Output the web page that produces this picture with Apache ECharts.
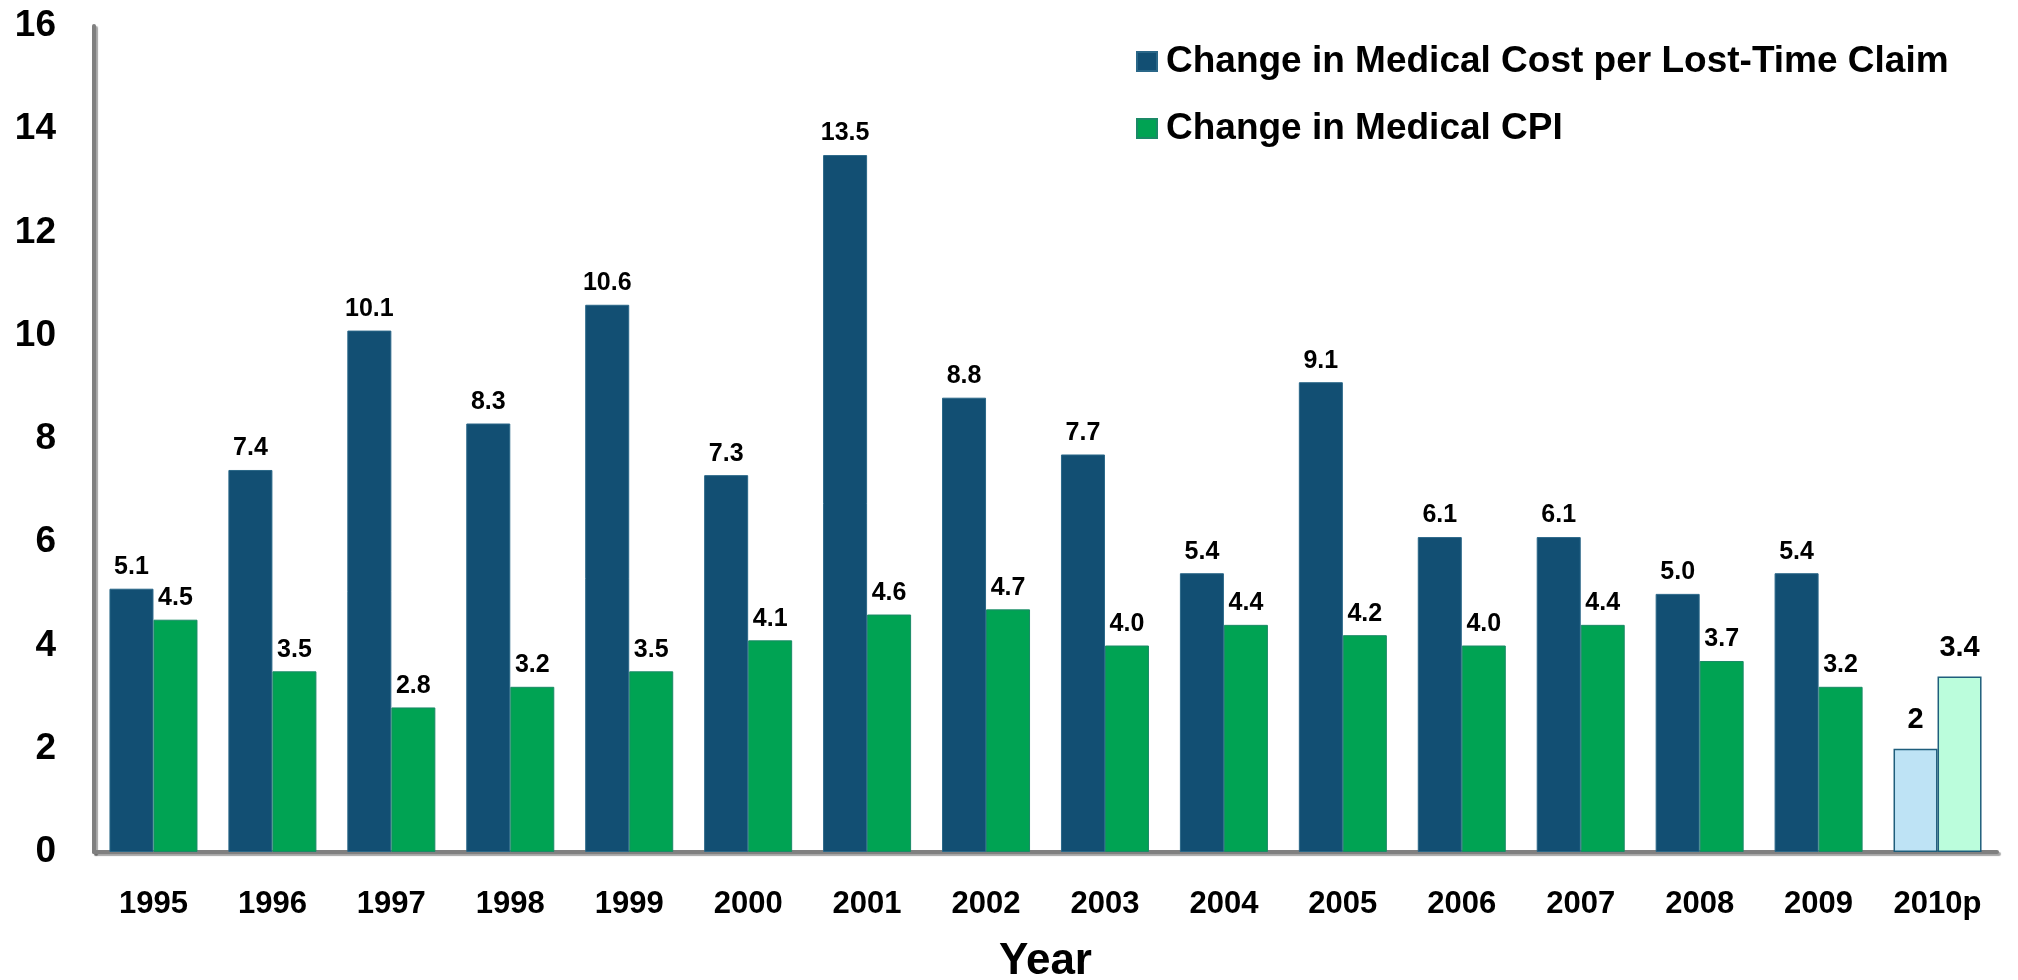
<!DOCTYPE html>
<html>
<head>
<meta charset="utf-8">
<script src="https://cdn.jsdelivr.net/npm/echarts@6/dist/echarts.min.js"></script>
<style>
html,body{margin:0;padding:0;background:#fff;}
#c{width:2018px;height:980px;}
</style>
</head>
<body>
<div id="c"></div>
<script>
var years = ['1995','1996','1997','1998','1999','2000','2001','2002','2003','2004','2005','2006','2007','2008','2009','2010p'];
var medCost = [5.1, 7.4, 10.1, 8.3, 10.6, 7.3, 13.5, 8.8, 7.7, 5.4, 9.1, 6.1, 6.1, 5.0, 5.4, 2];
var medCPI = [4.5, 3.5, 2.8, 3.2, 3.5, 4.1, 4.6, 4.7, 4.0, 4.4, 4.2, 4.0, 4.4, 3.7, 3.2, 3.4];
var projected = ['2010p'];
var seriesNames = ['Change in Medical Cost per Lost-Time Claim', 'Change in Medical CPI'];

var FONT = '"Liberation Sans", Arial, sans-serif';

function build(vals, projColor) {
  return vals.map(function (v, i) {
    var isProj = projected.indexOf(years[i]) >= 0;
    var d = { value: v, proj: isProj };
    if (isProj) {
      d.itemStyle = { color: projColor, borderColor: '#1f5e7c', borderWidth: 1.5 };
      d.label = { fontSize: 29, distance: 14 };
    }
    return d;
  });
}

var chart = echarts.init(document.getElementById('c'));
var labelCommon = {
  show: true,
  position: 'top',
  distance: 9,
  color: '#000',
  fontFamily: FONT,
  fontWeight: 'bold',
  fontSize: 25,
  formatter: function (p) {
    return p.data.proj ? String(p.value) : p.value.toFixed(1);
  }
};
var axisLineStyle = { color: '#808080', width: 4, shadowColor: 'rgba(0,0,0,0.35)', shadowOffsetX: 2, shadowOffsetY: 2, shadowBlur: 1 };
chart.setOption({
  animation: false,
  backgroundColor: '#fff',
  grid: { left: 94, right: 21, top: 26, bottom: 128, containLabel: false, outerBoundsMode: 'none' },
  legend: {
    orient: 'vertical',
    left: 1131,
    top: 38,
    itemGap: 30,
    itemWidth: 20,
    itemHeight: 19,
    icon: 'rect',
    textStyle: { fontFamily: FONT, fontWeight: 'bold', fontSize: 37, color: '#000', padding: [0, 0, 0, 4] },
    data: seriesNames
  },
  xAxis: {
    type: 'category',
    data: years,
    name: 'Year',
    nameLocation: 'middle',
    nameGap: 88,
    nameTextStyle: { fontFamily: FONT, fontWeight: 'bold', fontSize: 44, color: '#000' },
    axisLine: { lineStyle: axisLineStyle },
    axisTick: { show: false },
    axisLabel: { margin: 37, fontFamily: FONT, fontWeight: 'bold', fontSize: 31, color: '#000' }
  },
  yAxis: {
    type: 'value',
    min: 0, max: 16, interval: 2,
    axisLine: { show: true, lineStyle: axisLineStyle },
    axisTick: { show: false },
    splitLine: { show: false },
    axisLabel: { margin: 38, fontFamily: FONT, fontWeight: 'bold', fontSize: 37, color: '#000' }
  },
  series: [
    {
      name: seriesNames[0],
      type: 'bar',
      barGap: '0%',
      barCategoryGap: '26%',
      itemStyle: { color: '#124f73', borderColor: '#2a6788', borderWidth: 1 },
      label: labelCommon,
      data: build(medCost, '#bee3f5')
    },
    {
      name: seriesNames[1],
      type: 'bar',
      barGap: '0%',
      barCategoryGap: '26%',
      itemStyle: { color: '#00a353', borderColor: '#1a8a66', borderWidth: 1 },
      label: labelCommon,
      data: build(medCPI, '#bbfddc')
    }
  ]
});
</script>
</body>
</html>
